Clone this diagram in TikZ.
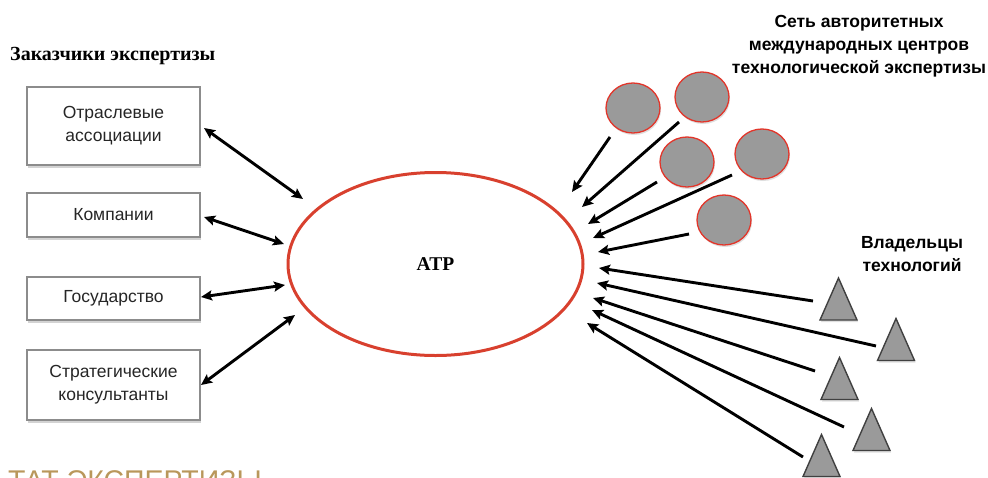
\documentclass[tikz,border=0pt]{standalone}
\usepackage{fontspec}
\setmainfont{Liberation Serif}
\setsansfont{Liberation Sans}
\usetikzlibrary{arrows.meta,shadows,shapes.geometric}
\definecolor{ellred}{HTML}{D8402E}
\definecolor{circred}{HTML}{E2352A}
\definecolor{gold}{HTML}{B9975B}
\definecolor{boxgray}{HTML}{8C8C8C}
\definecolor{fillgray}{HTML}{9A9A9A}
\begin{document}
\begin{tikzpicture}[x=1pt,y=-1pt,
  box/.style={draw=boxgray,line width=1.3pt,fill=white,minimum width=173pt,align=center,
    font=\sffamily\fontsize{17.5}{23}\selectfont,text=black!85,inner sep=0pt,
    drop shadow={opacity=0.35,shadow xshift=1pt,shadow yshift=-3pt}},
  circ/.style={ellipse,draw=circred,line width=1.3pt,fill=fillgray,minimum width=54pt,minimum height=50pt,inner sep=0pt,
    drop shadow={opacity=0.25,shadow xshift=1pt,shadow yshift=-2pt}},
  tri/.style={draw=black!75,line width=1.4pt,fill=fillgray,line join=miter,
    drop shadow={opacity=0.25,shadow xshift=1pt,shadow yshift=-2pt}},
  con/.style={line width=2.9pt,-{Stealth[length=11pt,width=10pt,inset=2pt]}},
  bicon/.style={line width=2.9pt,{Stealth[length=11pt,width=10pt,inset=2pt]}-{Stealth[length=11pt,width=10pt,inset=2pt]}},
  lbl/.style={font=\sffamily\bfseries\fontsize{17.5}{23}\selectfont,align=center,inner sep=0pt}
]
\useasboundingbox (0,0) rectangle (988,477);

% left title
\node[anchor=west,font=\bfseries\fontsize{20}{24}\selectfont,inner sep=0pt] (ltitle) at (10,56) {Заказчики экспертизы};

% boxes
\node[box,minimum height=78pt] (b1) at (113.5,126) {Отраслевые\\ассоциации};
\node[box,minimum height=44pt] (b2) at (113.5,215) {Компании};
\node[box,minimum height=43pt] (b3) at (113.5,298.5) {Государство};
\node[box,minimum height=70pt] (b4) at (113.5,385) {Стратегические\\консультанты};

% central ellipse
\node[ellipse,draw=ellred,line width=3pt,minimum width=295pt,minimum height=183pt,inner sep=0pt,
  font=\bfseries\fontsize{19.5}{22}\selectfont] (atp) at (435.5,264) {ATP};

% right titles
\node[lbl] (rtitle) at (859,46) {Сеть авторитетных\\международных центров\\технологической экспертизы};
\node[lbl] (owners) at (912,254) {Владельцы\\технологий};

% circles
\node[circ] (c1) at (633,108) {};
\node[circ] (c2) at (702,97) {};
\node[circ] (c3) at (687,162) {};
\node[circ] (c4) at (762,154) {};
\node[circ] (c5) at (724,220) {};

% triangles
\coordinate (t1) at (838.5,299);
\coordinate (t2) at (896,339.5);
\coordinate (t3) at (839.5,378.5);
\coordinate (t4) at (871.5,429.5);
\coordinate (t5) at (821.5,455.5);
\foreach \t in {t1,t2,t3,t4,t5}{
  \draw[tri] (\t) ++(0,-21) -- ++(18.5,42) -- ++(-37,0) -- cycle;
}

% connector end points
\coordinate (l1a) at (204,128); \coordinate (l1b) at (303,199);
\coordinate (l2a) at (204,217); \coordinate (l2b) at (284,244);
\coordinate (l3a) at (201,297); \coordinate (l3b) at (285,285);
\coordinate (l4a) at (201,385); \coordinate (l4b) at (295,315);

\coordinate (a1s) at (610,137); \coordinate (a1e) at (572,192);
\coordinate (a2s) at (679,122); \coordinate (a2e) at (582,207);
\coordinate (a3s) at (657,182); \coordinate (a3e) at (588,224);
\coordinate (a4s) at (732,175); \coordinate (a4e) at (593,238);
\coordinate (a5s) at (689,234); \coordinate (a5e) at (598,252);

\coordinate (b1s) at (813,301); \coordinate (b1e) at (599,268);
\coordinate (b2s) at (876,346); \coordinate (b2e) at (597,283);
\coordinate (b3s) at (815,371); \coordinate (b3e) at (593,298);
\coordinate (b4s) at (844,427); \coordinate (b4e) at (592,310);
\coordinate (b5s) at (803,457); \coordinate (b5e) at (587,323);

% connectors
\foreach \i in {1,2,3,4}{ \draw[bicon] (l\i a) -- (l\i b); }
\foreach \i in {1,...,5}{ \draw[con] (a\i s) -- (a\i e); }
\foreach \i in {1,...,5}{ \draw[con] (b\i s) -- (b\i e); }

% cut-off bottom text (cut by the lower edge as in the reference)
\begin{scope}
\clip (0,0) rectangle (988,477);
\node[anchor=base west,inner sep=0pt,text=gold,font=\sffamily\fontsize{28.5}{32}\selectfont] (bottom) at (8,490.4) {ТАТ ЭКСПЕРТИЗЫ};
\end{scope}
\end{tikzpicture}
\end{document}
